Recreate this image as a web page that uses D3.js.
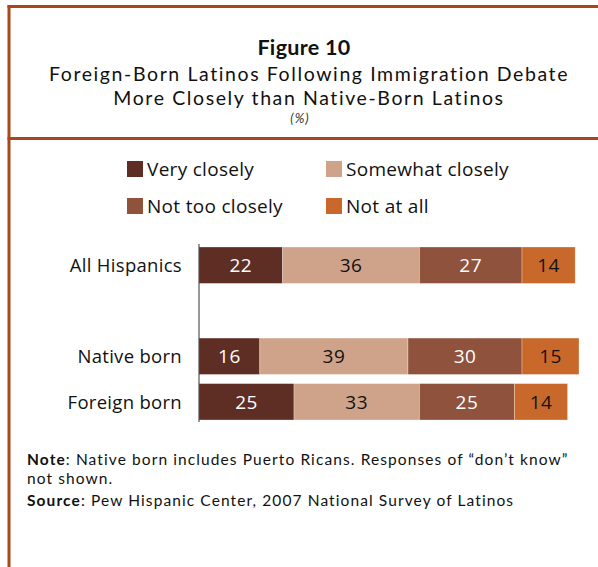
<!DOCTYPE html>
<html><head><meta charset="utf-8">
<script src="https://cdn.jsdelivr.net/npm/d3@7"></script>
<style>body{margin:0;background:#fff;}svg{display:block;font-family:"Open Sans",sans-serif;}.lato{font-family:Lato,sans-serif;}</style>
</head><body>
<svg id="c" width="598" height="567"></svg>
<script>
const categories = ["All Hispanics", "", "Native born", "Foreign born"];
const seriesNames = ["Very closely", "Somewhat closely", "Not too closely", "Not at all"];
const veryClosely = [22, null, 16, 25];
const somewhatClosely = [36, null, 39, 33];
const notTooClosely = [27, null, 30, 25];
const notAtAll = [14, null, 15, 14];
const colors = ["#5e2e24", "#cfa38a", "#8e523d", "#c8692b"];
const labelColors = ["#fff", "#111", "#fff", "#111"];

const svg = d3.select("#c");
const border = "#a8461c";
// frame
svg.append("line").attr("x1",9).attr("x2",9).attr("y1",5).attr("y2",567).attr("stroke",border).attr("stroke-width",3);
svg.append("line").attr("x1",7.5).attr("x2",598).attr("y1",6.5).attr("y2",6.5).attr("stroke",border).attr("stroke-width",3);
svg.append("line").attr("x1",7.5).attr("x2",598).attr("y1",138.5).attr("y2",138.5).attr("stroke",border).attr("stroke-width",3);

// titles
const cx = 304;
svg.append("text").attr("class","lato").attr("x",cx).attr("y",55).attr("text-anchor","middle").attr("font-weight","bold").attr("font-size",21.5).attr("letter-spacing",0.3).attr("fill","#111").text("Figure 10");
svg.append("text").attr("class","lato").attr("x",cx+5).attr("y",80.5).attr("text-anchor","middle").attr("font-size",19.5).attr("letter-spacing",1.6).attr("fill","#111").text("Foreign-Born Latinos Following Immigration Debate");
svg.append("text").attr("class","lato").attr("x",cx+5).attr("y",104.5).attr("text-anchor","middle").attr("font-size",19.5).attr("letter-spacing",1.6).attr("fill","#111").text("More Closely than Native-Born Latinos");
svg.append("text").attr("class","lato").attr("x",cx-4).attr("y",123).attr("text-anchor","middle").attr("font-size",13).attr("letter-spacing",1).attr("font-style","italic").attr("fill","#333").text("(%)");

// legend
const legPos = [[127,161],[326,161],[127,198],[326,198]];
seriesNames.forEach((n,i)=>{
  const g = svg.append("g").attr("transform",`translate(${legPos[i][0]},${legPos[i][1]})`);
  g.append("rect").attr("width",16).attr("height",16).attr("fill",colors[i]);
  g.append("text").attr("x",20).attr("y",15).attr("font-size",19).attr("letter-spacing",0.3).attr("fill","#111").text(n);
});

// scales
const x = d3.scaleLinear().domain([0,100]).range([199,579]);
const yb = d3.scaleBand().domain(categories).range([247, 420]).paddingInner(0.2).paddingOuter(0);

const series = [veryClosely, somewhatClosely, notTooClosely, notAtAll];
categories.forEach((cat, ci)=>{
  if (!cat) return;
  let acc = 0;
  series.forEach((s, si)=>{
    const v = s[ci];
    const x0 = x(acc), x1 = x(acc+v);
    svg.append("rect").attr("x",x0).attr("y",yb(cat)).attr("width",x1-x0).attr("height",yb.bandwidth())
      .attr("fill",colors[si]).attr("stroke","#fff").attr("stroke-width",0.6).attr("stroke-opacity",0.5);
    svg.append("text").attr("x",(x0+x1)/2).attr("y",yb(cat)+yb.bandwidth()/2+7).attr("text-anchor","middle")
      .attr("font-size",19).attr("letter-spacing",0.5).attr("fill",labelColors[si]).text(v);
    acc += v;
  });
  svg.append("text").attr("x",182).attr("y",yb(cat)+yb.bandwidth()/2+7).attr("text-anchor","end")
    .attr("font-size",18.5).attr("letter-spacing",0.3).attr("fill","#111").text(cat);
});
// axis line
svg.append("line").attr("x1",199).attr("x2",199).attr("y1",244).attr("y2",422).attr("stroke","#333").attr("stroke-width",1);

// notes
const note = svg.append("text").attr("class","lato").attr("x",27).attr("y",465).attr("font-size",15.5).attr("letter-spacing",1.1).attr("fill","#111");
note.append("tspan").attr("font-weight","bold").text("Note");
note.append("tspan").text(": Native born includes Puerto Ricans.  Responses of \u201cdon\u2019t know\u201d");
svg.append("text").attr("class","lato").attr("x",27).attr("y",484).attr("font-size",15.5).attr("letter-spacing",1.1).attr("fill","#111").text("not shown.");
const src = svg.append("text").attr("class","lato").attr("x",27).attr("y",506).attr("font-size",15.5).attr("letter-spacing",1.1).attr("fill","#111");
src.append("tspan").attr("font-weight","bold").text("Source");
src.append("tspan").text(": Pew Hispanic Center, 2007 National Survey of Latinos");
</script>
</body></html>
